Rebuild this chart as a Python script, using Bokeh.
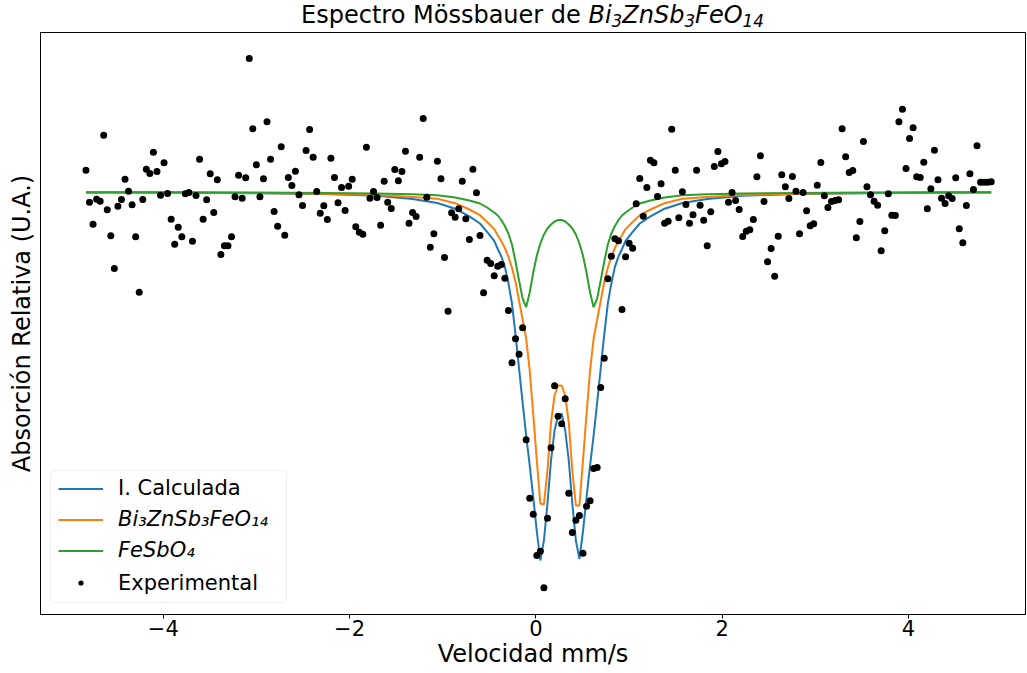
import numpy as np
from bokeh.plotting import figure
from bokeh.models import (Range1d, FixedTicker, Legend, LegendItem,
                          BoxAnnotation, Div)
from bokeh.layouts import column
from bokeh.embed import file_html
from bokeh.resources import INLINE

# ---------------- data ----------------
# velocity axis of the 256 spectrometer channels (mm/s)
VEL_FIRST = -4.830
VEL_LAST = 4.888
N_CHANNELS = 256

# experimental relative absorption, one value per channel (arbitrary units)
experimental = [
    444.3, 412.3, 390.3, 415.3, 413.3, 479.3, 404.7, 378.7, 346.0, 408.3,
    415.0, 435.3, 423.3, 409.7, 377.7, 322.3, 415.0, 445.3, 441.0, 462.3,
    443.0, 419.3, 451.7, 421.0, 395.3, 370.3, 387.3, 377.7, 420.7, 422.0,
    373.3, 419.0, 455.3, 395.3, 414.7, 440.7, 402.0, 434.7, 360.0, 368.7,
    368.7, 377.7, 417.7, 439.3, 416.3, 436.7, 556.0,
    485.7, 449.7, 417.7, 435.7, 492.7, 455.3, 403.0, 388.3, 467.7, 379.3,
    437.0, 429.0, 443.3, 419.7, 409.0, 464.0, 485.0, 457.3, 423.0, 401.3,
    408.7, 395.0, 456.3, 437.0, 411.7, 427.0, 404.0, 428.3, 435.3, 387.7,
    382.3, 380.3, 467.3, 416.3, 423.0, 417.0, 389.3, 433.3, 412.3, 406.0,
    445.0, 433.7, 443.0, 463.3, 391.3, 402.0, 398.0, 457.3,
    496.0, 417.3, 367.3, 380.7, 453.3, 435.7, 357.0, 303.3, 401.7, 397.3,
    405.7, 433.3, 395.7, 375.0, 445.3, 421.7, 379.0, 321.7, 354.3, 351.0,
    338.7, 348.3, 350.0, 336.3, 304.0,
    251.7, 275.7, 260.3, 286.7, 174.7, 116.3, 100.3, 59.0, 63.3, 26.7,
    96.3, 166.7, 228.7, 198.3, 190.7, 215.7, 121.3, 82.0, 94.3, 99.0,
    61.3, 108.3, 113.7, 146.0, 147.0, 227.0, 256.3,
    335.7, 358.3, 375.7, 373.7, 305.0, 357.7, 371.3, 366.3, 410.7, 436.0,
    398.3, 427.0, 454.3, 451.7, 418.0, 430.7, 391.3, 393.3, 485.3, 444.3,
    396.7, 422.7, 410.0, 391.3, 399.7, 444.3, 409.3,
    394.3, 368.7, 402.7, 448.0, 463.0, 450.7, 453.0, 412.3, 422.0, 414.0,
    405.0, 378.0, 383.3, 384.7, 395.0, 437.7, 458.7, 413.0, 352.7, 366.0,
    338.3, 378.3, 439.7, 427.7, 416.0, 438.0, 423.3, 380.7, 422.0, 403.7,
    388.7, 390.7, 429.3, 452.0, 418.7, 407.0, 413.0, 414.0, 414.7, 485.7,
    457.7, 442.0, 444.0, 376.7, 393.0, 473.0, 427.7,
    419.7, 413.3, 409.3, 363.7, 383.7, 420.7, 399.3, 399.0, 492.7, 505.3,
    446.0, 476.0, 486.7, 437.7, 437.0, 452.3, 405.7, 425.7, 464.3, 434.7,
    416.3, 411.0, 418.7, 416.0, 436.7, 385.7, 371.7, 409.0, 440.7, 425.0,
    468.7, 432.3, 432.3, 432.3, 432.7,
]

# fitted curves, read at these channels
curve_channels = [
    0, 12, 27, 47, 67, 82, 92, 99, 104, 108, 111, 113, 115, 116, 117, 118,
    119, 120, 121, 122, 123, 124, 125, 126, 127, 128, 129, 130, 131, 132,
    133, 134, 135, 136, 137, 138, 139, 140, 141, 142, 143, 144, 145, 146,
    147, 148, 149, 150, 151, 152, 154, 156, 159, 163, 168, 175, 185, 200,
    220, 240, 255,
]
calculada = [
    422.0, 421.9, 421.7, 421.2, 420.4, 418.7, 415.4, 411.5, 405.8, 398.1,
    391.0, 382.6,
    373.6, 365.5, 358.0, 347.6, 331.3, 311.0, 280.0, 246.0, 212.0, 179.0,
    149.0, 117.0, 83.0, 54.0, 74.0, 111.0, 154.0, 184.0, 199.0, 200.7,
    184.0, 154.0, 111.0, 74.0, 55.7, 83.0, 117.0, 149.0, 179.0, 212.0,
    246.0, 280.0, 311.0, 331.3, 347.6, 358.0, 365.5, 373.6,
    382.6, 391.0, 398.1, 405.8, 411.5, 415.4, 418.7, 420.4, 421.2, 421.7,
    421.9,
]
bi3znsb3feo14 = [
    422.1, 422.0, 421.9, 421.5, 420.8, 419.6, 417.5, 415.8, 411.3, 405.0,
    399.3, 392.5,
    385.4, 379.2, 373.4, 366.5, 357.8, 346.7, 332.7, 313.7, 295.0, 276.0,
    244.0, 200.0, 154.0, 111.0, 110.0, 144.0, 192.0, 219.0, 229.0, 229.0,
    219.0, 192.0, 144.0, 109.0, 109.0, 154.0, 200.0, 244.0, 276.0, 295.0,
    313.7, 332.7, 346.7, 357.8, 366.5, 373.4, 379.2, 385.4,
    392.5, 399.3, 405.0, 411.3, 415.8, 417.5, 419.6, 420.8, 421.5, 421.9,
    422.0,
]
fesbo4 = [
    422.3, 422.3, 422.2, 422.0, 421.6, 421.1, 420.3, 419.3, 417.0, 414.0,
    411.0, 407.0,
    402.0, 399.0, 394.5, 388.5, 381.0, 370.0, 353.0, 334.0, 316.0, 307.3,
    322.0, 342.0, 359.0, 371.0, 380.0, 386.0, 390.0, 393.0, 394.5, 394.5,
    393.0, 390.0, 386.0, 380.0, 371.0, 359.0, 342.0, 322.0, 307.3, 316.0,
    334.0, 353.0, 370.0, 381.0, 388.5, 394.5, 399.0, 402.0,
    407.0, 411.0, 414.0, 417.0, 419.3, 420.3, 421.1, 421.6, 422.0, 422.2,
    422.3,
]

x_ticks = [-4, -2, 0, 2, 4]
x_tick_labels = ["\u22124", "\u22122", "0", "2", "4"]

title_plain = "Espectro Mössbauer de"
title_formula_parts = [("Bi", "3"), ("ZnSb", "3"), ("FeO", "14")]
x_label = "Velocidad mm/s"
y_label = "Absorción Relativa (U.A.)"
legend_labels = ["I. Calculada", "Bi\u2083ZnSb\u2083FeO\u2081\u2084", "FeSbO\u2084", "Experimental"]

# ---------------- figure ----------------
FONT = "DejaVu Sans"
BLUE, ORANGE, GREEN = "#1f77b4", "#ff7f0e", "#2ca02c"

velocity = np.linspace(VEL_FIRST, VEL_LAST, N_CHANNELS)
curve_x = velocity[np.array(curve_channels)]

p = figure(width=1027, height=641, output_backend="svg", toolbar_location=None,
           title=None,
           x_range=Range1d(-5.318, 5.256), y_range=Range1d(0, 582),
           min_border_left=40, min_border_right=2, min_border_top=1,
           min_border_bottom=58)
p.background_fill_color = "white"
p.border_fill_color = "white"
p.outline_line_color = "black"
p.outline_line_width = 1
p.xgrid.visible = False
p.ygrid.visible = False

p.xaxis.ticker = FixedTicker(ticks=x_ticks)
p.xaxis.major_label_overrides = dict(zip(x_ticks, x_tick_labels))
p.xaxis.major_label_text_font = FONT
p.xaxis.major_label_text_font_size = "21px"
p.xaxis.major_label_text_color = "black"
p.xaxis.major_tick_out = 4
p.xaxis.major_tick_in = 0
p.xaxis.major_label_standoff = 1
p.xaxis.minor_tick_line_color = None
p.xaxis.axis_line_color = "black"
p.xaxis.major_tick_line_color = "black"
p.xaxis.axis_label = x_label
p.xaxis.axis_label_text_font = FONT
p.xaxis.axis_label_text_font_size = "24px"
p.xaxis.axis_label_text_font_style = "normal"
p.xaxis.axis_label_text_color = "black"
p.xaxis.axis_label_standoff = 1

p.yaxis.ticker = FixedTicker(ticks=[])
p.yaxis.major_tick_line_color = None
p.yaxis.minor_tick_line_color = None
p.yaxis.major_tick_out = 0
p.yaxis.major_label_standoff = 0
p.yaxis.axis_line_color = "black"
p.yaxis.axis_label = y_label
p.yaxis.axis_label_text_font = FONT
p.yaxis.axis_label_text_font_size = "24px"
p.yaxis.axis_label_text_font_style = "normal"
p.yaxis.axis_label_text_color = "black"
p.yaxis.axis_label_standoff = 5

l_calc = p.line(curve_x, calculada, line_color=BLUE, line_width=2)
l_bi = p.line(curve_x, bi3znsb3feo14, line_color=ORANGE, line_width=2)
l_fe = p.line(curve_x, fesbo4, line_color=GREEN, line_width=2)
pts = p.scatter(velocity, experimental, size=7, fill_color="black", line_color=None)

# legend frame
p.add_layout(BoxAnnotation(left=10, right=246, bottom=12, top=144,
                           left_units="screen", right_units="screen",
                           top_units="screen", bottom_units="screen",
                           fill_color="white", fill_alpha=0.8,
                           line_color="#cccccc", line_width=1, border_radius=4))


def make_legend(items, loc, style, gh=31, lh=31):
    lg = Legend(items=items, location=loc, orientation="vertical",
                padding=0, margin=0, spacing=0, glyph_width=45, glyph_height=gh,
                label_height=lh, label_standoff=15,
                label_text_font=FONT, label_text_font_size="21px",
                label_text_font_style=style, label_text_color="black",
                border_line_alpha=0, background_fill_alpha=0)
    p.add_layout(lg, "center")


make_legend([LegendItem(label=legend_labels[0], renderers=[l_calc])], (18, 110.5), "normal")
make_legend([LegendItem(label=legend_labels[1], renderers=[l_bi]),
             LegendItem(label=legend_labels[2], renderers=[l_fe])], (18, 48.5), "italic")
make_legend([LegendItem(label=legend_labels[3], renderers=[pts])], (18, 19.5), "normal",
            gh=13, lh=13)

# title: plain text followed by the italic formula with subscripts
sub_style = "font-size:70%;vertical-align:-0.22em;line-height:0;"
formula_html = "".join(f'{base}<span style="{sub_style}">{sub}</span>'
                       for base, sub in title_formula_parts)
title_html = (
    '<div style="box-sizing:border-box;width:1027px;height:31px;padding-left:40px;'
    'padding-right:2px;text-align:center;font-family:\'DejaVu Sans\';font-size:24px;'
    'line-height:31px;color:black;white-space:nowrap;margin:0;">'
    f'{title_plain} <i>{formula_html}</i></div>'
)
title_div = Div(text=title_html, width=1027, height=31, margin=0)

layout = column(title_div, p, spacing=0)
open("out.html", "w").write(file_html(layout, INLINE))
